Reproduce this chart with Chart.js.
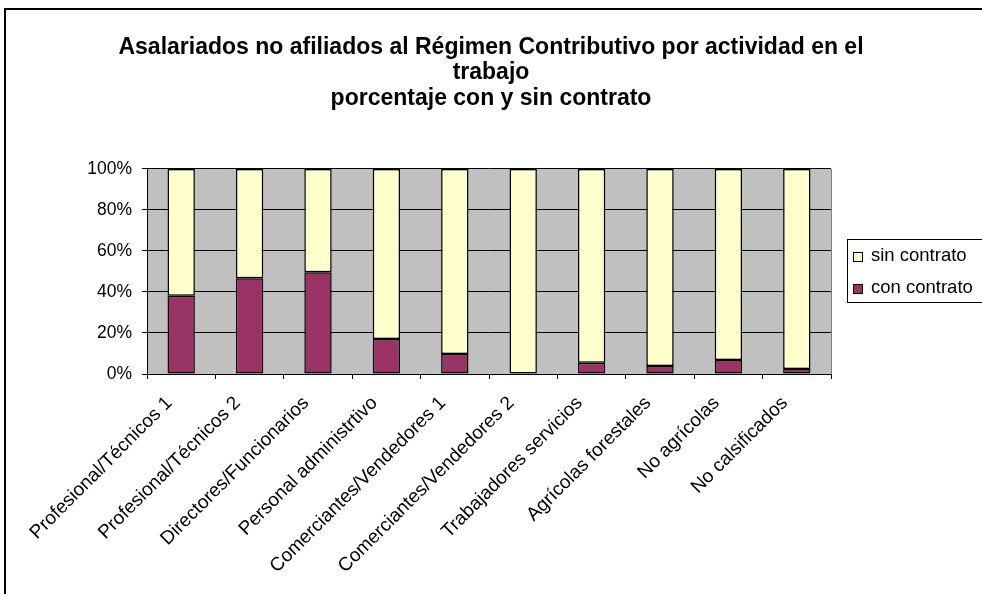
<!DOCTYPE html>
<html lang="es">
<head>
<meta charset="UTF-8">
<title>Asalariados no afiliados al Régimen Contributivo</title>
<script src="https://cdn.jsdelivr.net/npm/chart.js"></script>
<style>
  body { margin: 0; background: #fff; }
  canvas { display: block; }
</style>
</head>
<body>
<canvas id="chart" width="982" height="594"></canvas>
<script>
const categories = [
  "Profesional/Técnicos 1",
  "Profesional/Técnicos 2",
  "Directores/Funcionarios",
  "Personal administrtivo",
  "Comerciantes/Vendedores 1",
  "Comerciantes/Vendedores 2",
  "Trabajadores servicios",
  "Agrícolas forestales",
  "No agrícolas",
  "No calsificados"
];
const conContrato = [38.2, 46.7, 49.6, 17.1, 9.8, 0, 5.5, 3.9, 6.8, 2.4];
const sinContrato = [61.8, 53.3, 50.4, 82.9, 90.2, 100, 94.5, 96.1, 93.2, 97.6];
const seriesNames = ["con contrato", "sin contrato"];
const seriesColors = ["#993366", "#FFFFCC"];
const titleLines = [
  "Asalariados no afiliados al Régimen Contributivo por actividad en el",
  "trabajo",
  "porcentaje con y sin contrato"
];

const FONT = "Arial, 'Liberation Sans', sans-serif";

// white background, outer frame, gray plot area
const frame = {
  id: "frame",
  beforeDraw(chart) {
    const ctx = chart.ctx;
    const a = chart.chartArea;
    ctx.save();
    ctx.fillStyle = "#fff";
    ctx.fillRect(0, 0, chart.width, chart.height);
    ctx.strokeStyle = "#000";
    ctx.lineWidth = 2;
    ctx.strokeRect(5, 9, chart.width + 20, chart.height + 20);
    ctx.fillStyle = "#C0C0C0";
    ctx.fillRect(a.left, a.top, a.right - a.left, a.bottom - a.top);
    ctx.restore();
  },
  afterDatasetsDraw(chart) {
    const ctx = chart.ctx;
    const a = chart.chartArea;
    ctx.save();
    ctx.strokeStyle = "#808080";
    ctx.lineWidth = 1;
    ctx.beginPath();
    ctx.moveTo(a.right + 0.5, a.top);
    ctx.lineTo(a.right + 0.5, a.bottom);
    ctx.stroke();
    ctx.restore();
  }
};

// boxed legend on the right, top series first
const boxLegend = {
  id: "boxLegend",
  afterDraw(chart) {
    const ctx = chart.ctx;
    const x = 847, y = 239, h = 63;
    ctx.save();
    ctx.fillStyle = "#fff";
    ctx.fillRect(x, y, chart.width - x + 5, h);
    ctx.strokeStyle = "#000";
    ctx.lineWidth = 1;
    ctx.strokeRect(x + 0.5, y + 0.5, chart.width - x + 5, h);
    ctx.font = "18.5px " + FONT;
    ctx.textBaseline = "middle";
    const ds = chart.data.datasets.slice().reverse();
    ds.forEach((d, i) => {
      const cy = y + 17 + i * 32;
      ctx.fillStyle = d.backgroundColor;
      ctx.fillRect(853, cy - 4, 9, 9);
      ctx.strokeStyle = "#000";
      ctx.strokeRect(853.5, cy - 3.5, 9, 9);
      ctx.fillStyle = "#000";
      ctx.fillText(d.label, 871, cy);
    });
    ctx.restore();
  }
};

new Chart(document.getElementById("chart"), {
  type: "bar",
  data: {
    labels: categories,
    datasets: [
      { label: seriesNames[0], data: conContrato, backgroundColor: seriesColors[0] },
      { label: seriesNames[1], data: sinContrato, backgroundColor: seriesColors[1] }
    ]
  },
  options: {
    responsive: false,
    animation: false,
    layout: { padding: 0 },
    datasets: {
      bar: {
        borderColor: "#000",
        borderWidth: 1.5,
        borderSkipped: false,
        barPercentage: 0.4,
        categoryPercentage: 1
      }
    },
    plugins: {
      legend: { display: false },
      tooltip: { enabled: false },
      title: {
        display: true,
        text: titleLines,
        color: "#000",
        font: { family: FONT, size: 23, weight: "bold", lineHeight: 1.1 },
        padding: { top: 35, bottom: 58 }
      }
    },
    scales: {
      x: {
        stacked: true,
        grid: { display: true, drawOnChartArea: false, drawTicks: true, tickLength: 5, color: "#000", offset: true },
        border: { color: "#000", width: 1 },
        ticks: {
          color: "#000",
          font: { family: FONT, size: 19 },
          minRotation: 45,
          maxRotation: 45,
          autoSkip: false,
          padding: 13,
          labelOffset: -12
        },
        afterFit(scale) { scale.height = 220; }
      },
      y: {
        stacked: true,
        min: 0,
        max: 100,
        grid: { color: "#000", tickLength: 5, lineWidth: 1 },
        border: { color: "#000", width: 1 },
        ticks: {
          stepSize: 20,
          color: "#000",
          font: { family: FONT, size: 17.5 },
          padding: 10,
          callback: v => v + "%"
        },
        afterFit(scale) { scale.width = 147; }
      },
      // empty axis that keeps room for the legend on the right
      legendRoom: {
        type: "linear",
        position: "right",
        grid: { display: false },
        border: { display: false },
        ticks: { display: false },
        afterFit(scale) { scale.width = 151; }
      }
    }
  },
  plugins: [frame, boxLegend]
});
</script>
</body>
</html>
